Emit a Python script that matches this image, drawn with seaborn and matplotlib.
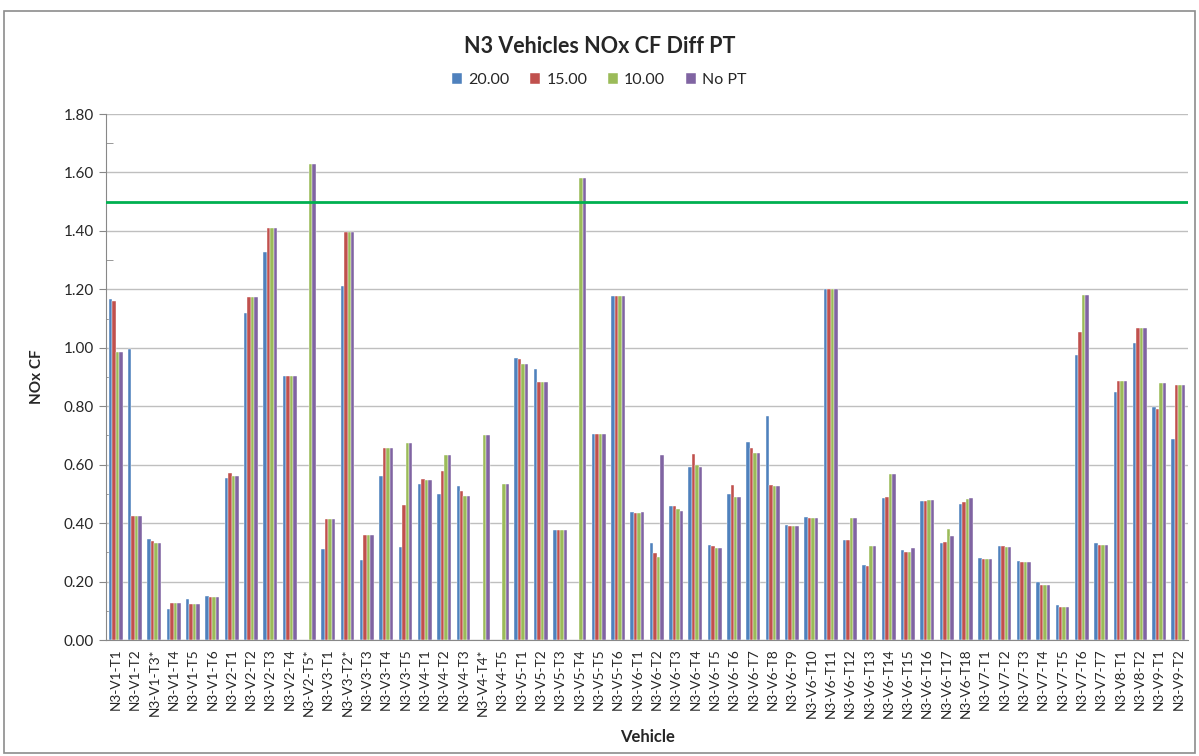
import numpy as np
import pandas as pd
import matplotlib.pyplot as plt
import seaborn as sns
from matplotlib.patches import Rectangle
from matplotlib.ticker import MultipleLocator

nan = np.nan

# Vehicle / test labels
vehicles = [
    "N3-V1-T1", "N3-V1-T2", "N3-V1-T3*", "N3-V1-T4", "N3-V1-T5", "N3-V1-T6",
    "N3-V2-T1", "N3-V2-T2", "N3-V2-T3", "N3-V2-T4", "N3-V2-T5*",
    "N3-V3-T1", "N3-V3-T2*", "N3-V3-T3", "N3-V3-T4", "N3-V3-T5",
    "N3-V4-T1", "N3-V4-T2", "N3-V4-T3", "N3-V4-T4*", "N3-V4-T5",
    "N3-V5-T1", "N3-V5-T2", "N3-V5-T3", "N3-V5-T4", "N3-V5-T5", "N3-V5-T6",
    "N3-V6-T1", "N3-V6-T2", "N3-V6-T3", "N3-V6-T4", "N3-V6-T5", "N3-V6-T6",
    "N3-V6-T7", "N3-V6-T8", "N3-V6-T9", "N3-V6-T10", "N3-V6-T11", "N3-V6-T12",
    "N3-V6-T13", "N3-V6-T14", "N3-V6-T15", "N3-V6-T16", "N3-V6-T17", "N3-V6-T18",
    "N3-V7-T1", "N3-V7-T2", "N3-V7-T3", "N3-V7-T4", "N3-V7-T5", "N3-V7-T6", "N3-V7-T7",
    "N3-V8-T1", "N3-V8-T2", "N3-V9-T1", "N3-V9-T2",
]

# NOx CF per power threshold
pt_20 = [1.168, 0.995, 0.347, 0.107, 0.142, 0.150, 0.556, 1.118, 1.329, 0.904, nan,
         0.313, 1.213, 0.273, 0.563, 0.319, 0.535, 0.498, 0.526, nan, nan,
         0.966, 0.929, 0.376, nan, 0.704, 1.177,
         0.437, 0.333, 0.458, 0.592, 0.325, 0.498, 0.676, 0.767, 0.394, 0.421, 1.200, 0.341,
         0.256, 0.485, 0.308, 0.475, 0.333, 0.466,
         0.280, 0.322, 0.272, 0.199, 0.120, 0.976, 0.331, 0.850, 1.018, 0.799, 0.688]
pt_15 = [1.159, 0.424, 0.338, 0.128, 0.124, 0.146, 0.573, 1.174, 1.409, 0.904, nan,
         0.413, 1.396, 0.359, 0.656, 0.463, 0.551, 0.580, 0.509, nan, nan,
         0.963, 0.884, 0.378, nan, 0.704, 1.177,
         0.433, 0.297, 0.458, 0.635, 0.322, 0.531, 0.658, 0.531, 0.391, 0.419, 1.200, 0.341,
         0.254, 0.491, 0.302, 0.475, 0.336, 0.472,
         0.278, 0.322, 0.267, 0.190, 0.112, 1.054, 0.324, 0.888, 1.067, 0.791, 0.871]
pt_10 = [0.987, 0.424, 0.331, 0.128, 0.124, 0.146, 0.561, 1.174, 1.409, 0.904, 1.629,
         0.413, 1.396, 0.359, 0.656, 0.674, 0.548, 0.633, 0.493, 0.702, 0.534,
         0.943, 0.884, 0.378, 1.581, 0.704, 1.177,
         0.433, 0.285, 0.450, 0.598, 0.316, 0.491, 0.640, 0.526, 0.391, 0.419, 1.200, 0.419,
         0.321, 0.567, 0.300, 0.479, 0.381, 0.483,
         0.278, 0.318, 0.267, 0.190, 0.112, 1.181, 0.324, 0.888, 1.067, 0.878, 0.871]
no_pt = [0.987, 0.424, 0.331, 0.128, 0.124, 0.146, 0.561, 1.174, 1.409, 0.904, 1.629,
         0.413, 1.396, 0.359, 0.656, 0.674, 0.548, 0.633, 0.493, 0.702, 0.534,
         0.943, 0.884, 0.378, 1.581, 0.704, 1.177,
         0.437, 0.633, 0.442, 0.591, 0.316, 0.491, 0.640, 0.526, 0.391, 0.419, 1.200, 0.419,
         0.321, 0.567, 0.316, 0.479, 0.356, 0.486,
         0.278, 0.318, 0.267, 0.190, 0.112, 1.181, 0.324, 0.888, 1.067, 0.878, 0.871]

series_names = ["20.00", "15.00", "10.00", "No PT"]
colors = ["#4F81BD", "#C0504D", "#9BBB59", "#8064A2"]
limit = 1.5

df = pd.DataFrame({"Vehicle": vehicles, "20.00": pt_20, "15.00": pt_15,
                   "10.00": pt_10, "No PT": no_pt})
long_df = df.melt(id_vars="Vehicle", var_name="PT", value_name="NOx CF")

sns.set_style("white")
plt.rcParams["font.family"] = ["Lato", "DejaVu Sans"]

fig = plt.figure(figsize=(11.99, 7.56), dpi=100)
ax = fig.add_axes([0.0884, 0.1534, 0.9025, 0.6958])

sns.barplot(data=long_df, x="Vehicle", y="NOx CF", hue="PT", order=vehicles,
            hue_order=series_names, palette=colors, width=0.72, errorbar=None,
            edgecolor="white", linewidth=0.3, saturation=1, ax=ax, zorder=3)

ax.axhline(limit, color="#00B050", lw=2, zorder=4)

ax.set_ylim(0, 1.8)
ax.set_xlim(-0.5, len(vehicles) - 0.5)
ax.yaxis.set_major_locator(MultipleLocator(0.2))
ax.yaxis.set_minor_locator(MultipleLocator(0.1))
ax.set_yticklabels([f"{v:.2f}" for v in ax.get_yticks()], fontsize=11)
ax.tick_params(axis="y", which="major", direction="out", length=5, color="#888888", left=True)
ax.tick_params(axis="y", which="minor", direction="in", length=5, color="#888888", left=True)
ax.tick_params(axis="x", length=0, pad=6)
plt.setp(ax.get_xticklabels(), rotation=90, fontsize=9.8)

ax.grid(axis="y", color="#BFBFBF", lw=1, zorder=0)
for side in ["top", "right"]:
    ax.spines[side].set_visible(False)
for side in ["left", "bottom"]:
    ax.spines[side].set_color("#888888")

ax.set_xlabel("Vehicle", fontsize=12, fontweight="bold", labelpad=8)
ax.set_ylabel("NOx CF", fontsize=11, fontweight="bold", labelpad=14)

handles, labels = ax.get_legend_handles_labels()
ax.get_legend().remove()
fig.legend(handles, labels, loc="center", bbox_to_anchor=(0.5, 0.894), ncol=4,
           frameon=False, fontsize=11.5, handlelength=0.6, handleheight=0.6,
           handletextpad=0.4, columnspacing=1.3)

fig.suptitle("N3 Vehicles NOx CF Diff PT", y=0.952, fontsize=15.5, fontweight="bold")

fig.patches.append(Rectangle((0.003, 0.004), 0.994, 0.982, transform=fig.transFigure,
                             fill=False, edgecolor="#8C8C8C", lw=1.2))

plt.savefig("out.png", dpi=100)
